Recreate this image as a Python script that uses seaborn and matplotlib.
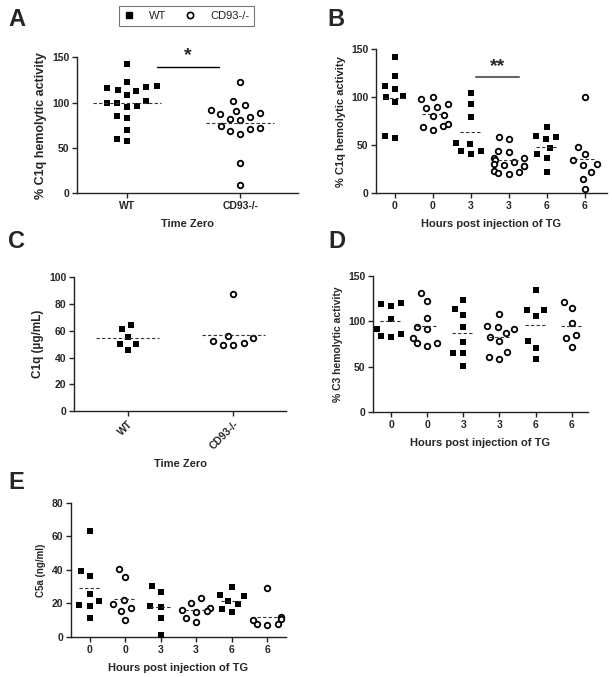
import numpy as np
import pandas as pd
import matplotlib
matplotlib.use("Agg")
import matplotlib.pyplot as plt
import seaborn as sns
from matplotlib.lines import Line2D
from matplotlib.path import Path

sns.set_style("ticks")
plt.rcParams['font.family'] = ['Liberation Sans', 'DejaVu Sans']

# ---------------- data ----------------
# Panel A: % C1q hemolytic activity, time zero
a_wt = [142.6, 122.8, 117.3, 113.6, 108.5, 113.2, 116.2, 118.0, 100.0, 96.0,
        95.6, 100.0, 102.2, 83.0, 85.7, 69.5, 57.4, 60.0]
a_ko = [123.0, 101.5, 92.3, 97.4, 90.8, 87.1, 82.0, 80.5, 84.6, 88.2,
        73.9, 70.6, 65.4, 68.8, 72.4, 33.8, 9.2]

# Panel B: % C1q hemolytic activity vs hours post TG
b_wt0 = [142.0, 121.9, 108.3, 112.2, 100.0, 101.7, 95.1, 57.3, 59.4]
b_ko0 = [97.9, 100.7, 90.3, 92.7, 88.5, 81.6, 80.6, 70.5, 72.6, 66.0, 68.8]
b_wt3 = [104.5, 92.7, 79.9, 52.4, 51.7, 44.4, 41.3, 44.1]
b_ko3 = [58.7, 56.6, 43.4, 44.4, 37.2, 36.5, 33.0, 34.4, 28.8, 28.1, 30.2,
         29.5, 22.2, 20.1, 23.6, 20.8]
b_wt6 = [69.1, 58.3, 56.6, 59.4, 46.9, 40.6, 36.8, 21.9]
b_ko6 = [100.3, 48.3, 40.6, 34.7, 29.2, 30.9, 22.2, 14.6, 4.2]

# Panel C: C1q (ug/mL), time zero
c_wt = [64.1, 61.1, 55.1, 50.4, 50.4, 45.6]
c_ko = [87.3, 54.4, 50.6, 49.4, 49.6, 52.4, 56.1]

# Panel D: % C3 hemolytic activity
d_wt0 = [119.2, 117.3, 120.2, 102.7, 91.3, 86.5, 82.5, 84.0]
d_ko0 = [131.6, 122.8, 103.8, 94.3, 92.0, 81.4, 76.3, 73.3, 76.3]
d_wt3 = [123.6, 113.7, 106.7, 94.2, 77.7, 65.6, 65.6, 50.6]
d_ko3 = [108.2, 94.6, 91.3, 93.5, 87.3, 83.2, 78.8, 66.7, 59.0, 61.2]
d_wt6 = [134.6, 112.6, 106.0, 112.6, 78.1, 70.4, 59.0]
d_ko6 = [121.7, 114.4, 98.3, 85.1, 81.4, 71.9]

# Panel E: C5a (ng/ml)
e_wt0 = [63.3, 39.3, 36.1, 25.8, 21.5, 19.2, 18.5, 11.5]
e_ko0 = [40.5, 35.5, 22.0, 19.4, 17.5, 15.5, 9.9]
e_wt3 = [30.4, 27.0, 18.0, 18.3, 11.5, 1.2]
e_ko3 = [23.0, 20.4, 17.0, 15.7, 16.0, 15.0, 11.1, 8.9]
e_wt6 = [29.8, 24.6, 25.0, 21.4, 19.6, 16.5, 14.9]
e_ko6 = [29.2, 12.1, 10.5, 7.5, 7.1, 7.5, 10.1]

time_labels = ["0", "0", "3", "3", "6", "6"]
genotype_labels = ["WT", "CD93-/-"]

# ---------------- marker shapes (padded so the swarm leaves gaps) ----------------
PAD = 0.75
_pad = [Path([[PAD, PAD]], [Path.MOVETO]), Path([[-PAD, -PAD]], [Path.MOVETO])]
SQUARE = Path.make_compound_path(
    Path([[-0.5, -0.5], [0.5, -0.5], [0.5, 0.5], [-0.5, 0.5], [-0.5, -0.5]],
         [Path.MOVETO, Path.LINETO, Path.LINETO, Path.LINETO, Path.CLOSEPOLY]),
    *_pad)
CIRCLE = Path.make_compound_path(Path.circle((0, 0), 0.5), *_pad)


# ---------------- helpers ----------------
def build(groups):
    rows = []
    for key, geno, vals in groups:
        for v in vals:
            rows.append({"grp": key, "geno": geno, "val": v})
    return pd.DataFrame(rows)


def draw(ax, groups, ticklabels, ylim, yticks, ylabel, xlabel, xlim,
         ylabel_size=8, rot=0, sq=7.2, ci=6.0):
    df = build(groups)
    order = [g[0] for g in groups]
    wt = df[df.geno == "WT"]
    ko = df[df.geno == "KO"]
    sns.swarmplot(data=wt, x="grp", y="val", order=order, ax=ax, marker=SQUARE,
                  color="black", size=sq, linewidth=0)
    sns.swarmplot(data=ko, x="grp", y="val", order=order, ax=ax, marker=CIRCLE,
                  color="white", edgecolor="black", linewidth=1.3, size=ci)
    for coll in ax.collections:
        coll.set_clip_on(False)
    # mean lines
    for i, (key, geno, vals) in enumerate(groups):
        m = np.mean(vals)
        ax.hlines(m, i - 0.3, i + 0.3, colors="#333333", linestyles=(0, (3, 2)),
                  linewidth=0.8, zorder=4)
    ax.set_xlim(*xlim)
    ax.set_ylim(*ylim)
    ax.set_yticks(yticks)
    ax.set_xticks(range(len(order)))
    if rot:
        ax.set_xticklabels(ticklabels, rotation=rot, ha="right",
                           rotation_mode="anchor", fontweight="bold", fontsize=7.5)
    else:
        ax.set_xticklabels(ticklabels, fontweight="bold", fontsize=7.5)
    for t in ax.get_yticklabels():
        t.set_fontweight("bold")
        t.set_fontsize(7.5)
    ax.set_ylabel(ylabel, fontweight="bold", fontsize=ylabel_size, labelpad=4)
    ax.set_xlabel(xlabel, fontweight="bold", fontsize=8, labelpad=6)
    sns.despine(ax=ax)
    for s in ["left", "bottom"]:
        ax.spines[s].set_linewidth(1.0)
        ax.spines[s].set_color("#222222")
    ax.tick_params(axis="both", length=3.5, width=1.0, pad=2, color="#222222")


W, H = 612, 677
fig = plt.figure(figsize=(W / 100, H / 100), dpi=100)


def axes_px(left, right, top, bottom):
    return fig.add_axes([left / W, (H - bottom) / H, (right - left) / W, (bottom - top) / H])


axA = axes_px(77, 298, 57.3, 193.3)
axB = axes_px(376, 607, 49.3, 193.3)
axC = axes_px(74, 286, 277.3, 411)
axD = axes_px(373, 588, 276, 412.3)
axE = axes_px(70.7, 286, 502.7, 637)

draw(axA, [("WT", "WT", a_wt), ("KO", "KO", a_ko)], genotype_labels,
     (0, 150), [0, 50, 100, 150], "% C1q hemolytic activity", "Time Zero",
     (-0.44, 1.51), ylabel_size=9)
draw(axB, [("0W", "WT", b_wt0), ("0K", "KO", b_ko0), ("3W", "WT", b_wt3),
           ("3K", "KO", b_ko3), ("6W", "WT", b_wt6), ("6K", "KO", b_ko6)],
     time_labels, (0, 150), [0, 50, 100, 150], "% C1q hemolytic activity",
     "Hours post injection of TG", (-0.5, 5.58), ylabel_size=8)
draw(axC, [("WT", "WT", c_wt), ("KO", "KO", c_ko)], genotype_labels,
     (0, 100), [0, 20, 40, 60, 80, 100], "C1q (\u00b5g/mL)", "Time Zero",
     (-0.51, 1.5), ylabel_size=8.5, rot=45)
draw(axD, [("0W", "WT", d_wt0), ("0K", "KO", d_ko0), ("3W", "WT", d_wt3),
           ("3K", "KO", d_ko3), ("6W", "WT", d_wt6), ("6K", "KO", d_ko6)],
     time_labels, (0, 150), [0, 50, 100, 150], "% C3 hemolytic activity",
     "Hours post injection of TG", (-0.5, 5.45), ylabel_size=7.5)
draw(axE, [("0W", "WT", e_wt0), ("0K", "KO", e_ko0), ("3W", "WT", e_wt3),
           ("3K", "KO", e_ko3), ("6W", "WT", e_wt6), ("6K", "KO", e_ko6)],
     time_labels, (0, 80), [0, 20, 40, 60, 80], "C5a (ng/ml)",
     "Hours post injection of TG", (-0.53, 5.53), ylabel_size=7)

# significance annotations
axA.plot([0.27, 0.81], [139.6, 139.6], color="black", lw=1.0, clip_on=False)
axA.text(0.54, 142, "*", ha="center", va="bottom", fontsize=14, fontweight="bold")
axB.plot([2.13, 3.27], [121.5, 121.5], color="#666666", lw=1.5, clip_on=False)
axB.text(2.7, 123, "**", ha="center", va="bottom", fontsize=14, fontweight="bold")

# panel letters
for lx, ly, letter in [(8, 26, "A"), (327, 26, "B"), (8, 248, "C"), (328, 248, "D"), (8, 489, "E")]:
    fig.text(lx / W, (H - ly) / H, letter, fontsize=17, fontweight="bold",
             ha="left", va="baseline")

# legend
handles = [Line2D([], [], marker="s", color="black", linestyle="", markersize=4.5),
           Line2D([], [], marker="o", markerfacecolor="white", markeredgecolor="black",
                  markeredgewidth=1.2, linestyle="", markersize=4.5)]
leg = fig.legend(handles, ["WT", "CD93-/-"], loc="center",
                 bbox_to_anchor=(186.5 / W, (H - 16) / H), ncol=2, frameon=True,
                 fancybox=False, edgecolor="#555555", fontsize=8,
                 handlelength=1.0, handletextpad=1.3, columnspacing=1.6,
                 borderpad=0.45)
leg.get_frame().set_linewidth(0.8)
for t in leg.get_texts():
    t.set_color("#222222")

fig.savefig("out.png", dpi=100)
